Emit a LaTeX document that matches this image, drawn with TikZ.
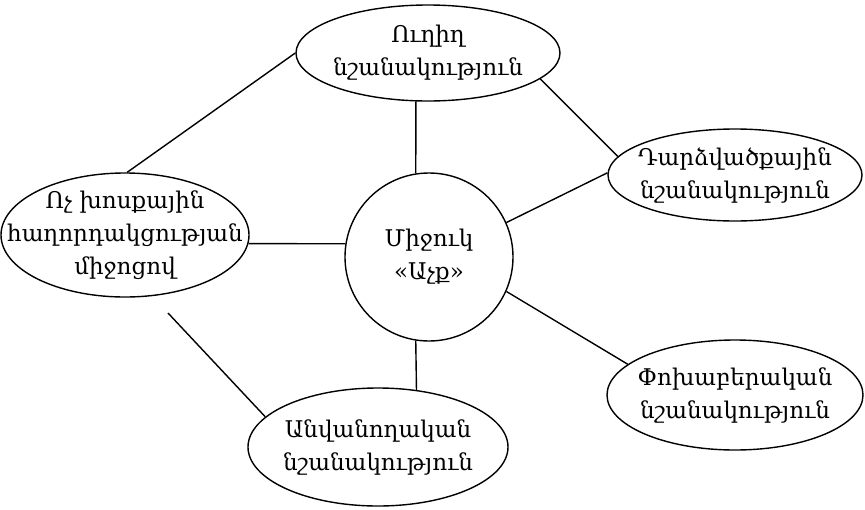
\documentclass[tikz,border=0pt]{standalone}
\usepackage{fontspec}
\usepackage{tikz}
\usetikzlibrary{shapes.geometric}
\newfontfamily\armfont{DejaVu Serif}
\tikzstyle{meaning}=[draw,ellipse,line width=1.4pt,inner xsep=-40pt,inner ysep=-20pt,align=center,font=\armfont\fontsize{23}{33}\selectfont]
\tikzstyle{link}=[line width=1.4pt]

\begin{document}
\begin{tikzpicture}[x=1pt,y=-1pt]
\useasboundingbox (0,0) rectangle (865,509);
\node [meaning,minimum width=264pt,minimum height=96pt] (direct) at (428,53) {Ուղիղ\\նշանակություն};
\node [meaning,minimum width=254pt,minimum height=92pt] (idiom) at (735,175) {Դարձվածքային\\նշանակություն};
\node [meaning,minimum width=248pt,minimum height=124pt] (nonverbal) at (125,235) {Ոչ խոսքային\\հաղորդակցության\\միջոցով};
\node [meaning,circle,minimum size=168pt] (core) at (429,257) {Միջուկ\\«Աչք»};
\node [meaning,minimum width=256pt,minimum height=110pt] (figurative) at (735,395) {Փոխաբերական\\նշանակություն};
\node [meaning,minimum width=260pt,minimum height=118pt] (nominative) at (378,447) {Անվանողական\\նշանակություն};
\coordinate (loose) at (168,313);

\draw [link] (nonverbal.88) -- (direct.west);
\draw [link] (direct.256) -- (core.99);
\draw [link] (direct.347) -- (idiom.171);
\draw [link] (idiom.179) -- (core.24);
\draw [link] (nonverbal.-4) -- (core.171);
\draw [link] (core.336) -- (figurative.164);
\draw [link] (core.261) -- (nominative.56);
\draw [link] (loose) -- (nominative.165);
\end{tikzpicture}
\end{document}
